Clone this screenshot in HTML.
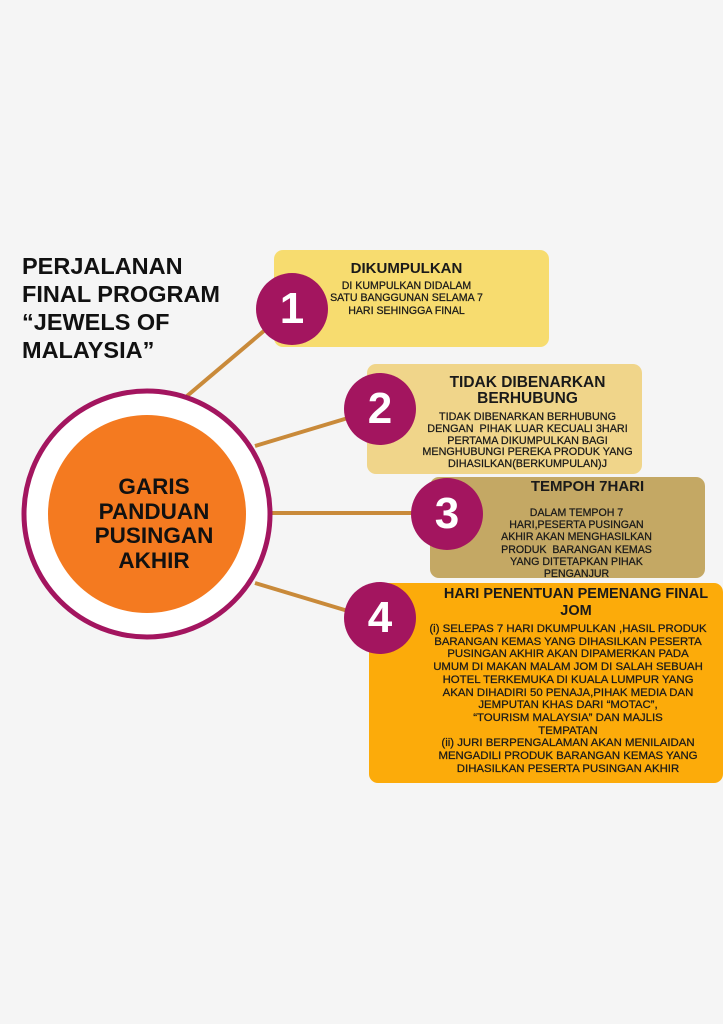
<!DOCTYPE html>
<html><head><style>
body{margin:0;width:723px;height:1024px;background:#f5f5f5;position:relative;overflow:hidden;font-family:"Liberation Sans",sans-serif;}
.a{position:absolute;}
.box{position:absolute;border-radius:9px;text-align:center;color:#1a1a1a;font-weight:bold;}
.t{font-size:15px;line-height:16px;font-weight:900;}
.s{font-size:10.6px;line-height:12.3px;font-weight:normal;-webkit-text-stroke:0.25px #1a1a1a;}
.n{position:absolute;width:72px;height:72px;border-radius:50%;background:#a3155f;color:#fff;font-size:44px;font-weight:bold;text-align:center;line-height:72px;}
</style></head><body>
<svg class="a" style="left:0;top:0" width="723" height="1024">
<g stroke="#c98a3a" stroke-width="4">
<line x1="187" y1="396" x2="265" y2="330"/>
<line x1="255" y1="446" x2="348" y2="418"/>
<line x1="272" y1="513" x2="414" y2="513"/>
<line x1="255" y1="583" x2="348" y2="611"/>
</g>
<circle cx="147" cy="514" r="123" fill="#fff" stroke="#a3155f" stroke-width="5"/>
<circle cx="147" cy="514" r="99" fill="#f47a20"/>
</svg>
<div class="a" style="left:22px;top:252px;font-size:23.5px;line-height:28px;font-weight:bold;color:#111;">PERJALANAN<br>FINAL PROGRAM<br>“JEWELS OF<br>MALAYSIA”</div>
<div class="a" style="left:45px;top:475px;width:218px;text-align:center;font-size:22.5px;line-height:24.5px;font-weight:bold;color:#111;">GARIS<br>PANDUAN<br>PUSINGAN<br>AKHIR</div>

<div class="box" style="left:274px;top:250px;width:275px;height:97px;background:#f7dc6f;">
<div class="t" style="margin-top:11px;padding-right:10px">DIKUMPULKAN</div>
<div class="s" style="margin-top:3px;padding-right:10px">DI KUMPULKAN DIDALAM<br>SATU BANGGUNAN SELAMA 7<br>HARI SEHINGGA FINAL</div></div>

<div class="box" style="left:367px;top:364px;width:275px;height:110px;background:#f0d58a;">
<div class="t" style="margin-top:11px;padding-left:46px;font-size:15.5px">TIDAK DIBENARKAN<br>BERHUBUNG</div>
<div class="s" style="margin-top:5px;padding-left:46px;font-size:10.8px;line-height:11.8px">TIDAK DIBENARKAN BERHUBUNG<br>DENGAN&nbsp; PIHAK LUAR KECUALI 3HARI<br>PERTAMA DIKUMPULKAN BAGI<br>MENGHUBUNGI PEREKA PRODUK YANG<br>DIHASILKAN(BERKUMPULAN)J</div></div>

<div class="box" style="left:430px;top:477px;width:275px;height:101px;background:#c4a864;">
<div class="t" style="margin-top:2px;padding-left:40px">TEMPOH 7HARI</div>
<div class="s" style="margin-top:12px;padding-left:18px;font-size:10.6px;line-height:12.2px">DALAM TEMPOH 7<br>HARI,PESERTA PUSINGAN<br>AKHIR AKAN MENGHASILKAN<br>PRODUK&nbsp; BARANGAN KEMAS<br>YANG DITETAPKAN PIHAK<br>PENGANJUR</div></div>

<div class="box" style="left:369px;top:583px;width:354px;height:200px;background:#fcab0a;">
<div class="t" style="margin-top:3px;padding-left:60px;white-space:nowrap;font-size:14.5px;line-height:16.5px">HARI PENENTUAN PEMENANG FINAL<br>JOM</div>
<div class="s" style="margin-top:4px;padding-left:44px;font-size:11.4px;line-height:12.7px;white-space:nowrap">(i) SELEPAS 7 HARI DKUMPULKAN ,HASIL PRODUK<br>BARANGAN KEMAS YANG DIHASILKAN PESERTA<br>PUSINGAN AKHIR AKAN DIPAMERKAN PADA<br>UMUM DI MAKAN MALAM JOM DI SALAH SEBUAH<br>HOTEL TERKEMUKA DI KUALA LUMPUR YANG<br>AKAN DIHADIRI 50 PENAJA,PIHAK MEDIA DAN<br>JEMPUTAN KHAS DARI “MOTAC”,<br>“TOURISM MALAYSIA” DAN MAJLIS<br>TEMPATAN<br>(ii) JURI BERPENGALAMAN AKAN MENILAIDAN<br>MENGADILI PRODUK BARANGAN KEMAS YANG<br>DIHASILKAN PESERTA PUSINGAN AKHIR</div></div>

<div class="n" style="left:256px;top:273px">1</div>
<div class="n" style="left:344px;top:373px">2</div>
<div class="n" style="left:411px;top:478px">3</div>
<div class="n" style="left:344px;top:582px">4</div>
</body></html>
